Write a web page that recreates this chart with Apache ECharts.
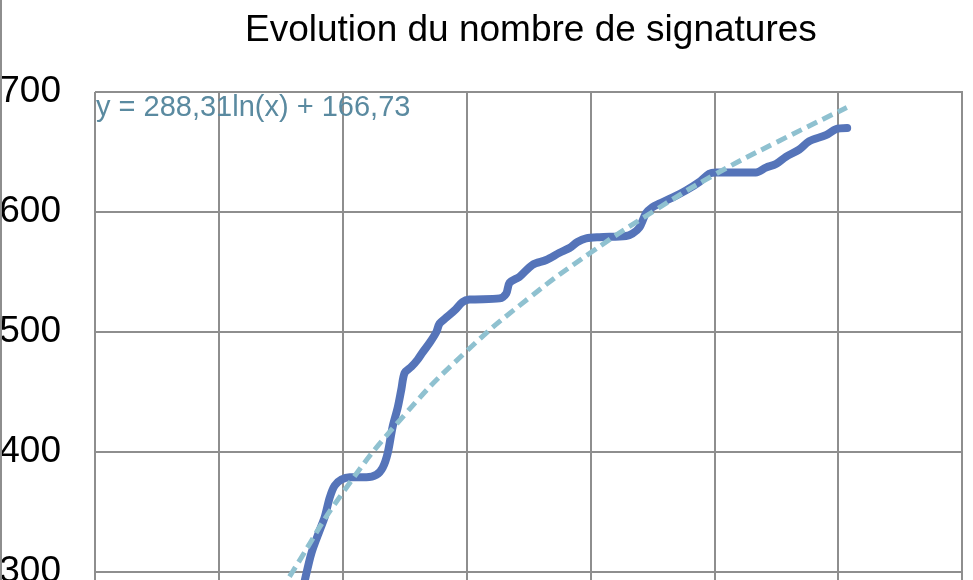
<!DOCTYPE html>
<html>
<head>
<meta charset="utf-8">
<script src="https://cdn.jsdelivr.net/npm/echarts@6/dist/echarts.min.js"></script>
<style>
html,body{margin:0;padding:0;background:#fff;}
#chart{width:973px;height:580px;}
</style>
</head>
<body>
<div id="chart"></div>
<script>
// Data
const titleText = "Evolution du nombre de signatures";
const equationText = "y = 288,31ln(x) + 166,73";
const xValues = [1.60, 1.694, 1.748, 1.815, 1.855, 1.895, 1.935, 1.990, 2.056, 2.191, 2.272, 2.323, 2.363, 2.403, 2.444, 2.473, 2.500, 2.554, 2.605, 2.645, 2.702, 2.756, 2.782, 2.836, 2.903, 2.968, 3.024, 3.266, 3.320, 3.347, 3.427, 3.532, 3.643, 3.750, 3.831, 3.895, 3.965, 4.073, 4.288, 4.339, 4.395, 4.449, 4.500, 4.556, 4.661, 4.772, 4.879, 4.960, 5.014, 5.336, 5.417, 5.498, 5.578, 5.685, 5.766, 5.901, 5.981, 6.073];
const signatures = [250, 293, 316, 335, 346, 362, 372, 377, 379, 379, 381, 387, 399, 421, 437, 452, 466, 471, 477, 483, 491, 500, 507, 512, 518, 525, 527, 528, 532, 541, 546, 556, 560, 566, 570, 575, 578, 579, 580, 582, 587, 599, 604, 607, 612, 618, 625, 632, 633, 633, 637, 640, 646, 652, 659, 664, 669, 670];
const trendX = [1.5, 1.6, 2.0, 2.5, 3.0, 3.5, 4.0, 4.5, 5.0, 5.5, 6.07];
const trendY = [284, 301, 366, 431, 484, 528, 566, 600, 631, 658, 687];
const yTicks = [0, 100, 200, 300, 400, 500, 600, 700];

const main = xValues.map((x, i) => [x, signatures[i]]);
const trend = trendX.map((x, i) => [x, trendY[i]]);

const chart = echarts.init(document.getElementById('chart'), null, {renderer: 'canvas'});
chart.setOption({
  animation: false,
  backgroundColor: '#ffffff',
  title: {
    text: titleText,
    left: 240,
    top: 7,
    textStyle: {fontFamily: 'Liberation Sans, Arial, sans-serif', fontSize: 37, fontWeight: 'normal', color: '#000'}
  },
  grid: {left: 95, top: 92, width: 867, height: 840, show: false, containLabel: false, outerBoundsMode: 'none'},
  xAxis: {
    type: 'value', min: 0, max: 7, interval: 1,
    axisLine: {show: false}, axisTick: {show: false}, axisLabel: {show: false},
    splitLine: {show: true, lineStyle: {color: '#8e8e8e', width: 2}}
  },
  yAxis: {
    type: 'value', min: yTicks[0], max: yTicks[yTicks.length - 1], interval: 100,
    axisLine: {show: false}, axisTick: {show: false},
    axisLabel: {show: true, margin: 34, fontFamily: 'Liberation Sans, Arial, sans-serif', fontSize: 37, color: '#000'},
    splitLine: {show: true, lineStyle: {color: '#8e8e8e', width: 2}}
  },
  graphic: [
    {type: 'line', shape: {x1: 1, y1: 0, x2: 1, y2: 580}, style: {stroke: '#8e8e8e', lineWidth: 2}, z: 10},
    {type: 'line', shape: {x1: 962, y1: 91, x2: 962, y2: 580}, style: {stroke: '#8e8e8e', lineWidth: 2}, z: 1},
    {type: 'text', left: 96, top: 93, z: 10,
     style: {text: equationText, fontFamily: 'Liberation Sans, Arial, sans-serif', fontSize: 29, fill: '#5a8aa0'}}
  ],
  series: [
    {
      type: 'line', data: main, smooth: 0.3, symbol: 'none', z: 3,
      lineStyle: {color: '#5574b9', width: 8, cap: 'round', join: 'round'}
    },
    {
      type: 'line', data: trend, smooth: true, symbol: 'none', z: 4,
      lineStyle: {color: '#8fc1d0', width: 5, type: [11, 6]}
    }
  ]
});
</script>
</body>
</html>
